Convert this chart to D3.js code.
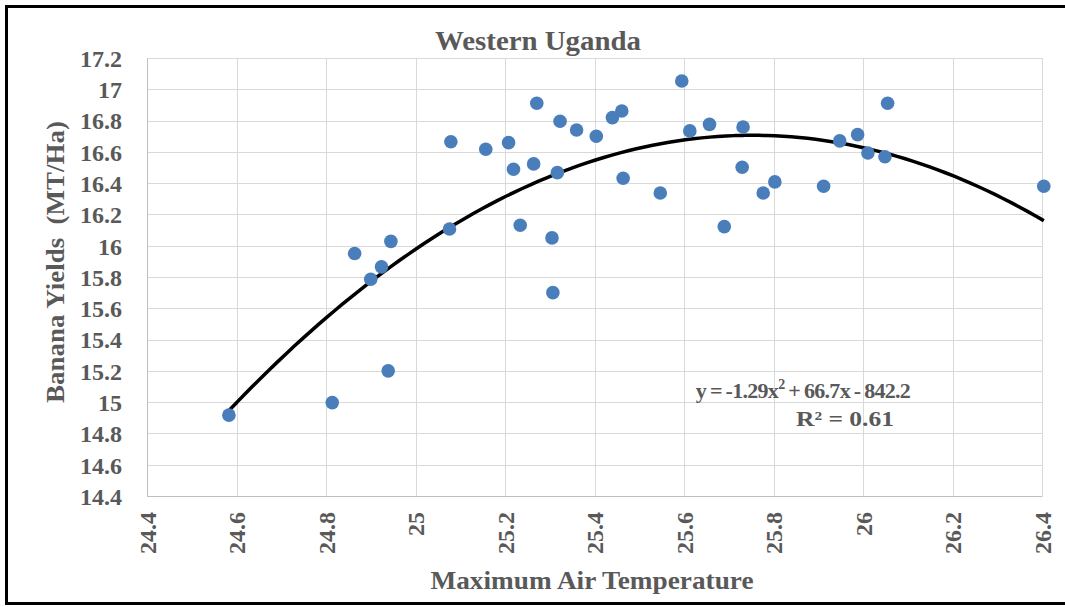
<!DOCTYPE html>
<html>
<head>
<meta charset="utf-8">
<script src="https://cdn.jsdelivr.net/npm/d3@7"></script>
<style>
  body { margin: 0; background: #fff; }
  svg text { font-family: "Liberation Serif", "DejaVu Serif", "Times New Roman", Times, serif !important; font-weight: bold; fill: #595959; }
</style>
</head>
<body>
<div id="chart"></div>
<script>
// max air temperature vs banana yield
var temps = [24.583, 24.814, 24.864, 24.900, 24.924, 24.939, 24.945, 25.076, 25.079, 25.157,
  25.208, 25.219, 25.234, 25.264, 25.271, 25.305, 25.307, 25.317, 25.323, 25.360,
  25.404, 25.440, 25.461, 25.464, 25.547, 25.595, 25.613, 25.657, 25.690, 25.730,
  25.732, 25.777, 25.803, 25.912, 25.948, 25.988, 26.011, 26.049, 26.055, 26.404]
var yields = [14.917, 14.997, 15.950, 15.786, 15.865, 15.200, 16.028, 16.107, 16.665, 16.617,
  16.659, 16.489, 16.131, 16.523, 16.911, 16.050, 15.700, 16.467, 16.796, 16.740,
  16.700, 16.819, 16.861, 16.431, 16.337, 17.053, 16.734, 16.776, 16.122, 16.502,
  16.759, 16.337, 16.408, 16.380, 16.670, 16.710, 16.593, 16.569, 16.911, 16.380]

var xTicks = [24.4, 24.6, 24.8, 25, 25.2, 25.4, 25.6, 25.8, 26, 26.2, 26.4]
var yTicks = [14.4, 14.6, 14.8, 15, 15.2, 15.4, 15.6, 15.8, 16, 16.2, 16.4, 16.6, 16.8, 17, 17.2]

var title = "Western Uganda"
var xTitle = "Maximum Air Temperature"
var yTitle = "Banana Yields  (MT/Ha)"
var eqLabel = ["y = -1.29x", "2", " + 66.7x - 842.2"]
var r2Label = "R² = 0.61"

var serif = "'Liberation Serif', 'DejaVu Serif', 'Times New Roman', serif"

var W = 1065, H = 607
var margin = {top: 58, right: 23, bottom: 111, left: 147}

var svg = d3.select("#chart").append("svg")
  .attr("width", W)
  .attr("height", H)
  .attr("font-family", serif)

svg.append("rect").attr("width", W).attr("height", H).attr("fill", "#fff")

// outer frame (right side is cut off in the original)
svg.append("path")
  .attr("d", "M" + W + ",6.5 H6.5 V603.5 H" + W)
  .attr("fill", "none")
  .attr("stroke", "#000")
  .attr("stroke-width", 3)

var x = d3.scaleLinear().domain([24.4, 26.4]).range([margin.left, W - margin.right])
var y = d3.scaleLinear().domain([14.4, 17.2]).range([H - margin.bottom, margin.top])

// gridlines
svg.append("g")
  .selectAll("line.v")
  .data(xTicks)
  .enter().append("line")
  .attr("x1", function(d) { return Math.round(x(d)) + 0.5 })
  .attr("x2", function(d) { return Math.round(x(d)) + 0.5 })
  .attr("y1", y(14.4))
  .attr("y2", y(17.2))
  .attr("stroke", "#d9d9d9")
  .attr("stroke-width", 1)

svg.append("g")
  .selectAll("line.h")
  .data(yTicks)
  .enter().append("line")
  .attr("x1", x(24.4))
  .attr("x2", x(26.4))
  .attr("y1", function(d) { return Math.round(y(d)) + 0.5 })
  .attr("y2", function(d) { return Math.round(y(d)) + 0.5 })
  .attr("stroke", "#d9d9d9")
  .attr("stroke-width", 1)

// y axis labels
var yAxis = d3.axisLeft(y).tickValues(yTicks).tickSize(0).tickPadding(25)
  .tickFormat(d3.format("~g"))
var gy = svg.append("g").attr("transform", "translate(" + margin.left + ",0)").call(yAxis)
gy.attr("font-family", serif)
gy.select(".domain").attr("stroke", "#bfbfbf")
gy.selectAll("text").attr("font-size", 24).attr("font-family", serif).attr("dy", "0.35em")

// x axis labels, rotated
var xAxis = d3.axisBottom(x).tickValues(xTicks).tickSize(0).tickFormat(d3.format("~g"))
var gx = svg.append("g").attr("transform", "translate(0," + (H - margin.bottom) + ")").call(xAxis)
gx.attr("font-family", serif)
gx.select(".domain").attr("stroke", "#bfbfbf")
gx.selectAll("text")
  .attr("font-size", 24)
  .attr("font-family", serif)
  .attr("text-anchor", "end")
  .attr("transform", "rotate(-90)")
  .attr("x", -16)
  .attr("y", 0)
  .attr("dy", "0.35em")

// quadratic least squares trend
function polyFit(xs, ys) {
  var mx = d3.mean(xs)
  var s = [0, 0, 0, 0, 0], t = [0, 0, 0]
  for (var i = 0; i < xs.length; i++) {
    var u = xs[i] - mx
    var p = 1
    for (var k = 0; k < 5; k++) { s[k] += p; if (k < 3) t[k] += p * ys[i]; p *= u }
  }
  var A = [[s[0], s[1], s[2], t[0]], [s[1], s[2], s[3], t[1]], [s[2], s[3], s[4], t[2]]]
  for (var c = 0; c < 3; c++) {
    for (var r = c + 1; r < 3; r++) {
      var f = A[r][c] / A[c][c]
      for (var j = c; j < 4; j++) A[r][j] -= f * A[c][j]
    }
  }
  var b = [0, 0, 0]
  for (var r2 = 2; r2 >= 0; r2--) {
    var v = A[r2][3]
    for (var j2 = r2 + 1; j2 < 3; j2++) v -= A[r2][j2] * b[j2]
    b[r2] = v / A[r2][r2]
  }
  return function(xv) { var u = xv - mx; return b[0] + b[1] * u + b[2] * u * u }
}

var fit = polyFit(temps, yields)
var xs = d3.range(0, 101).map(function(i) {
  return d3.min(temps) + (d3.max(temps) - d3.min(temps)) * i / 100
})

svg.append("path")
  .datum(xs)
  .attr("fill", "none")
  .attr("stroke", "#000")
  .attr("stroke-width", 3.5)
  .attr("d", d3.line().x(function(d) { return x(d) }).y(function(d) { return y(fit(d)) }).curve(d3.curveBasis))

// points
svg.append("g")
  .selectAll("circle")
  .data(temps)
  .enter().append("circle")
  .attr("cx", function(d) { return x(d) })
  .attr("cy", function(d, i) { return y(yields[i]) })
  .attr("r", 6.8)
  .attr("fill", "#4a7ebb")

// titles
svg.append("text")
  .attr("x", 538).attr("y", 50)
  .attr("text-anchor", "middle")
  .attr("font-size", 28)
  .attr("textLength", 206)
  .attr("lengthAdjust", "spacingAndGlyphs")
  .text(title)

svg.append("text")
  .attr("x", 592).attr("y", 589)
  .attr("text-anchor", "middle")
  .attr("font-size", 26)
  .attr("textLength", 323)
  .attr("lengthAdjust", "spacingAndGlyphs")
  .text(xTitle)

svg.append("text")
  .attr("transform", "translate(63.5,262) rotate(-90)")
  .attr("text-anchor", "middle")
  .attr("font-size", 25)
  .attr("textLength", 282)
  .attr("lengthAdjust", "spacingAndGlyphs")
  .style("white-space", "pre")
  .text(yTitle)

// equation label
var eq = svg.append("text")
  .attr("x", 803).attr("y", 398)
  .attr("text-anchor", "middle")
  .attr("font-size", 22)
  .attr("letter-spacing", -0.7)
  .attr("word-spacing", -1)
eq.append("tspan").text(eqLabel[0])
eq.append("tspan").attr("dy", -9).attr("font-size", 14).text(eqLabel[1])
eq.append("tspan").attr("dy", 9).text(eqLabel[2])

svg.append("text")
  .attr("x", 845).attr("y", 426)
  .attr("text-anchor", "middle")
  .attr("font-size", 22)
  .attr("textLength", 98)
  .attr("lengthAdjust", "spacingAndGlyphs")
  .text(r2Label)
</script>
</body>
</html>
